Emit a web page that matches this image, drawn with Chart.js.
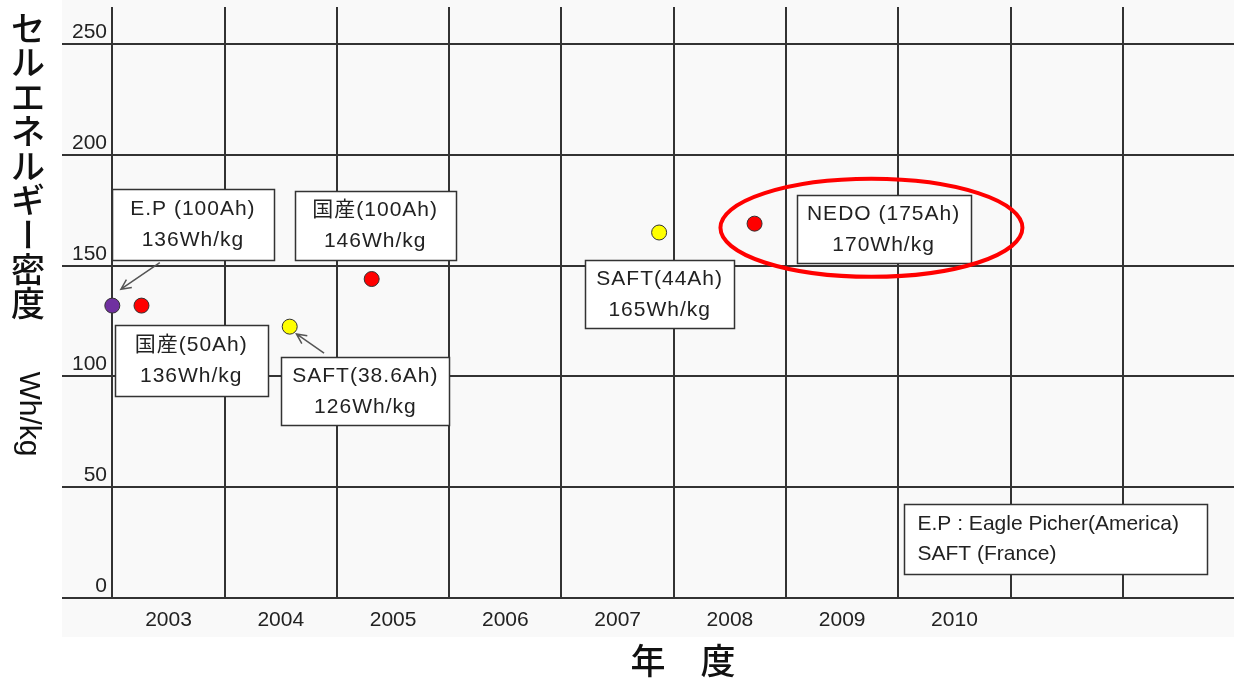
<!DOCTYPE html>
<html>
<head>
<meta charset="utf-8">
<script src="https://cdn.jsdelivr.net/npm/chart.js@4.4.1/dist/chart.umd.min.js"></script>
<style>
    html, body { margin: 0; padding: 0; background: #ffffff; }
    #wrap { width: 1234px; height: 682px; }
</style>
</head>
<body>
<div id="wrap"><canvas id="chart"></canvas></div>
<script>
// データ
const makers = ['E.P', '国産', 'SAFT', '国産', 'SAFT', 'NEDO'];
const years = [2002.5, 2002.76, 2004.08, 2004.81, 2007.37, 2008.22];
const energy = [132, 132, 122.5, 144, 165, 169];

const gridYears = [2002.5, 2003.5, 2004.5, 2005.5, 2006.5, 2007.5, 2008.5, 2009.5, 2010.5, 2011.5];
const yearLabels = ['2003', '2004', '2005', '2006', '2007', '2008', '2009', '2010'];
const yTicks = [0, 50, 100, 150, 200, 250];

const yTitle = 'セルエネルギー密度';
const yUnit = 'Wh/kg';
const xTitle = '年　度';

const noteTexts = [
    ['E.P (100Ah)', '136Wh/kg'],
    ['国産(100Ah)', '146Wh/kg'],
    ['国産(50Ah)', '136Wh/kg'],
    ['SAFT(38.6Ah)', '126Wh/kg'],
    ['SAFT(44Ah)', '165Wh/kg'],
    ['NEDO (175Ah)', '170Wh/kg']
];
const legendLines = ['E.P : Eagle Picher(America)', 'SAFT (France)'];

// 注記の位置（データ座標）と大きさ（px）
const noteBoxes = [
    { x: 2003.218, y: 168.6, w: 162, h: 71 },
    { x: 2004.841, y: 168.2, w: 161, h: 69 },
    { x: 2003.203, y: 107.2, w: 153, h: 71 },
    { x: 2004.754, y: 93.5, w: 168, h: 68 },
    { x: 2007.375, y: 137.2, w: 149, h: 68 },
    { x: 2009.369, y: 166.7, w: 174, h: 68 }
];
const legendBox = { x: 2010.896, y: 26.7, w: 303, h: 70 };
const arrows = [
    { from: [2002.923, 151.4], to: [2002.577, 139.4] },
    { from: [2004.386, 110.5], to: [2004.140, 119.2] }
];
const highlight = { x: 2009.261, y: 167.1, rx: 151, ry: 49 };

const makerColors = {
    'E.P': '#7030a0',
    '国産': '#ff0000',
    'NEDO': '#ff0000',
    'SAFT': '#ffff00'
};

const LATIN = "'Liberation Sans', 'Noto Sans CJK JP', sans-serif";
const CJK = "'Noto Sans CJK JP', sans-serif";

function noPadding(s) {
    s.paddingTop = 0;
    s.paddingBottom = 0;
    s.paddingLeft = 0;
    s.paddingRight = 0;
}

function drawBox(ctx, cx, cy, w, h) {
    const l = Math.round(cx - w / 2) + 0.5;
    const t = Math.round(cy - h / 2) + 0.5;
    ctx.fillStyle = '#ffffff';
    ctx.fillRect(l, t, w, h);
    ctx.strokeStyle = '#333333';
    ctx.lineWidth = 1.5;
    ctx.strokeRect(l, t, w, h);
}

const decor = {
    id: 'decor',

    beforeDraw(chart) {
        const { ctx, chartArea } = chart;
        ctx.save();
        ctx.fillStyle = '#f9f9f9';
        ctx.fillRect(chartArea.left, 0, chart.width - chartArea.left, chartArea.bottom + 39);
        ctx.restore();
    },

    beforeDatasetsDraw(chart) {
        const { ctx, scales: { x, y } } = chart;
        ctx.save();
        ctx.font = `21px ${LATIN}`;
        ctx.letterSpacing = '1px';
        ctx.textBaseline = 'middle';

        noteBoxes.forEach((b, i) => {
            const cx = x.getPixelForValue(b.x);
            const cy = y.getPixelForValue(b.y);
            drawBox(ctx, cx, cy, b.w, b.h);
            ctx.fillStyle = '#222222';
            ctx.textAlign = 'center';
            ctx.fillText(noteTexts[i][0], cx, cy - 15);
            ctx.fillText(noteTexts[i][1], cx, cy + 16);
        });

        // 凡例ボックス
        const lx = x.getPixelForValue(legendBox.x);
        const ly = y.getPixelForValue(legendBox.y);
        drawBox(ctx, lx, ly, legendBox.w, legendBox.h);
        ctx.letterSpacing = '0px';
        ctx.fillStyle = '#222222';
        ctx.textAlign = 'left';
        ctx.fillText(legendLines[0], lx - legendBox.w / 2 + 14, ly - 15);
        ctx.fillText(legendLines[1], lx - legendBox.w / 2 + 14, ly + 15);
        ctx.restore();
    },

    afterDatasetsDraw(chart) {
        const { ctx, scales: { x, y } } = chart;
        ctx.save();

        // 矢印
        ctx.strokeStyle = '#555555';
        ctx.lineWidth = 1.5;
        arrows.forEach(a => {
            const x1 = x.getPixelForValue(a.from[0]);
            const y1 = y.getPixelForValue(a.from[1]);
            const x2 = x.getPixelForValue(a.to[0]);
            const y2 = y.getPixelForValue(a.to[1]);
            const ang = Math.atan2(y2 - y1, x2 - x1);
            ctx.beginPath();
            ctx.moveTo(x1, y1);
            ctx.lineTo(x2, y2);
            ctx.moveTo(x2 - 11 * Math.cos(ang - 0.45), y2 - 11 * Math.sin(ang - 0.45));
            ctx.lineTo(x2, y2);
            ctx.lineTo(x2 - 11 * Math.cos(ang + 0.45), y2 - 11 * Math.sin(ang + 0.45));
            ctx.stroke();
        });

        // NEDO の赤い楕円
        ctx.strokeStyle = '#ff0000';
        ctx.lineWidth = 4;
        ctx.beginPath();
        ctx.ellipse(x.getPixelForValue(highlight.x), y.getPixelForValue(highlight.y),
            highlight.rx, highlight.ry, 0, 0, Math.PI * 2);
        ctx.stroke();

        ctx.restore();
    },

    afterDraw(chart) {
        const { ctx } = chart;
        ctx.save();
        ctx.fillStyle = '#111111';
        ctx.textAlign = 'center';
        ctx.textBaseline = 'middle';

        // 縦書きの軸タイトル
        ctx.font = `500 34px ${CJK}`;
        [...yTitle].forEach((ch, i) => {
            const cy = 28 + i * 34.4;
            if (ch === 'ー') {
                ctx.save();
                ctx.translate(28, cy);
                ctx.rotate(Math.PI / 2);
                ctx.fillText(ch, 0, 0);
                ctx.restore();
            } else {
                ctx.fillText(ch, 28, cy);
            }
        });

        ctx.save();
        ctx.font = `30px ${LATIN}`;
        ctx.translate(28, 414);
        ctx.rotate(Math.PI / 2);
        ctx.fillText(yUnit, 0, 0);
        ctx.restore();

        // 横軸タイトル
        ctx.font = `500 35px ${CJK}`;
        ctx.fillText(xTitle, 683, 661);
        ctx.restore();
    }
};

const ctx = document.getElementById('chart');

new Chart(ctx, {
    type: 'scatter',
    data: {
        datasets: [{
            data: years.map((yr, i) => ({ x: yr, y: energy[i] })),
            pointRadius: 7.5,
            pointHoverRadius: 7.5,
            pointBackgroundColor: makers.map(m => makerColors[m]),
            pointBorderColor: '#333333',
            pointBorderWidth: 1
        }]
    },

    options: {
        responsive: true,
        maintainAspectRatio: false,
        animation: false,

        layout: {
            autoPadding: false,
            padding: { left: 62, top: 7, right: 0, bottom: 0 }
        },

        plugins: {
            legend: { display: false },
            tooltip: { enabled: false }
        },

        scales: {
            x: {
                type: 'linear',
                min: 2002.052,
                max: 2012.49,
                afterBuildTicks: s => { s.ticks = gridYears.map(v => ({ value: v })); },
                afterFit: s => { s.height = 84; noPadding(s); },
                ticks: {
                    callback: (v, i) => yearLabels[i] ?? '',
                    labelOffset: 56.2,
                    padding: 10,
                    autoSkip: false,
                    maxRotation: 0,
                    color: '#222222',
                    font: { family: LATIN, size: 21 }
                },
                grid: { color: '#333333', lineWidth: 2, drawTicks: false },
                border: { display: false }
            },

            y: {
                min: 0,
                max: 266.8,
                afterBuildTicks: s => { s.ticks = yTicks.map(v => ({ value: v })); },
                afterFit: s => { s.width = 0; noPadding(s); },
                ticks: {
                    mirror: true,
                    crossAlign: 'far',
                    padding: 10,
                    labelOffset: -12,
                    color: '#222222',
                    font: { family: LATIN, size: 21 }
                },
                grid: { color: '#333333', lineWidth: 2, drawTicks: false },
                border: { display: false }
            }
        }
    },

    plugins: [decor]
});
</script>
</body>
</html>
